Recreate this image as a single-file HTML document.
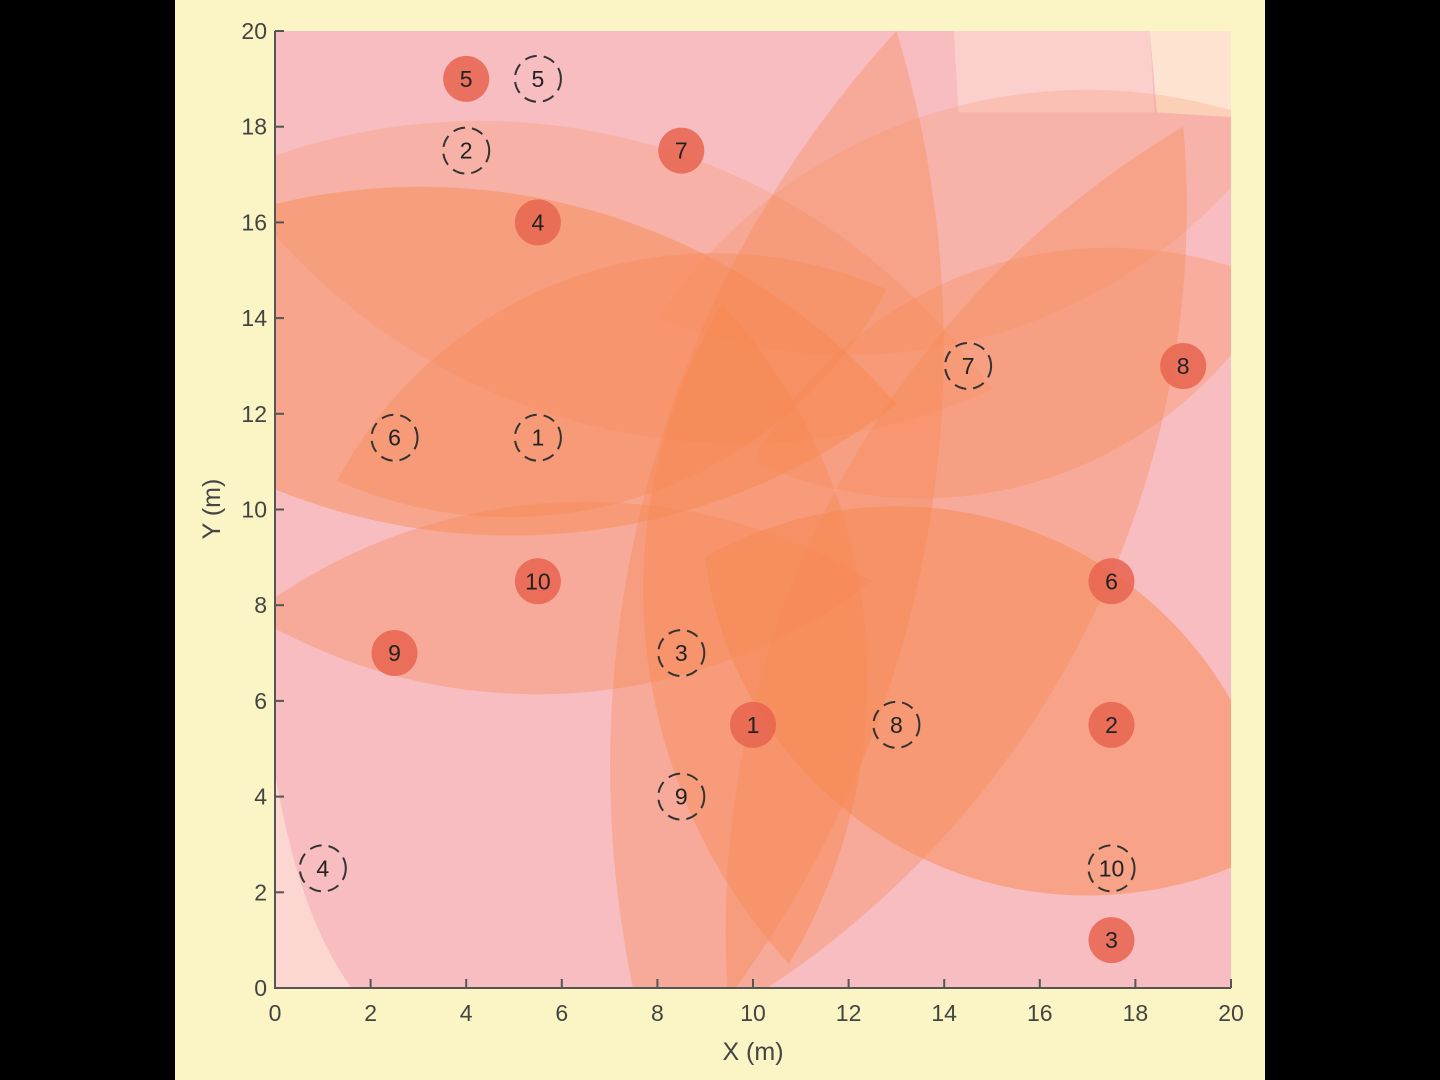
<!DOCTYPE html>
<html><head><meta charset="utf-8"><style>
html,body{margin:0;padding:0;background:#000;}
svg{display:block;font-family:"Liberation Sans",sans-serif;}
</style></head><body>
<svg id="fig" width="1440" height="1080" viewBox="0 0 1440 1080">
<rect x="0" y="0" width="1440" height="1080" fill="#000"/>
<rect x="175" y="0" width="1090" height="1080" fill="#fbf4c4"/>
<defs><clipPath id="axclip"><rect x="275" y="31" width="956" height="957"/></clipPath></defs>
<g id="plot" clip-path="url(#axclip)"></g>
<g id="axes"></g>
<g id="marks"></g>
</svg>
<script>
const xTicks=[0,2,4,6,8,10,12,14,16,18,20];
const yTicks=[0,2,4,6,8,10,12,14,16,18,20];
// lenses: start/end points and bulge in data units
const lensStart=[[-1,17],[-5,14],[1.3,10.6],[-0.5,7.8],[10.75,0.5],[8,-2],[9.5,-0.5],[9,9],[8,14],[10,11]];
const lensEnd=[[15,12.5],[13,12.2],[12.8,14.6],[12.5,8.5],[9.35,14.3],[13,20],[19,18],[21,3],[21,18],[21,14.7]];
const lensBulge=[3,3.6,2.4,2,2.3,3,3,3.6,2.4,2.3];
const lensAlpha=[0.22,0.45,0.35,0.35,0.4,0.35,0.35,0.5,0.2,0.3];
const solidLabels=["1","2","3","4","5","6","7","8","9","10"];
const solidX=[10,17.5,17.5,5.5,4,17.5,8.5,19,2.5,5.5];
const solidY=[5.5,5.5,1,16,19,8.5,17.5,13,7,8.5];
const dashLabels=["1","2","3","4","5","6","7","8","9","10"];
const dashX=[5.5,4,8.5,1,5.5,2.5,14.5,13,8.5,17.5];
const dashY=[11.5,17.5,7,2.5,19,11.5,13,5.5,4,2.5];

const NS="http://www.w3.org/2000/svg";
const X0=275,X1=1231,Y0=988,Y1=31;
const sx=v=>X0+(X1-X0)*v/20;
const sy=v=>Y0-(Y0-Y1)*v/20;
function mk(t,a,p){const e=document.createElementNS(NS,t);for(const k in a)e.setAttribute(k,a[k]);p.appendChild(e);return e;}
const plot=document.getElementById('plot'),axes=document.getElementById('axes'),marks=document.getElementById('marks');

let bg=mk('rect',{x:X0,y:Y1,width:X1-X0,height:Y0-Y1,fill:'#f8bdc0'},plot);


let c0=mk('path',{d:`M${sx(14.2)} ${sy(20)} L${sx(14.3)} ${sy(18.3)} L${sx(18.4)} ${sy(18.3)} L${sx(18.3)} ${sy(20)} Z`,fill:'#fbcfcc'},plot);


let c1=mk('path',{d:`M${sx(18.3)} ${sy(20)} L${sx(18.45)} ${sy(18.3)} L${sx(20)} ${sy(18.2)} L${sx(20)} ${sy(20)} Z`,fill:'#fde3d0'},plot);


let c2=mk('path',{d:`M${sx(0)} ${sy(4.5)} Q${sx(0.5)} ${sy(1.5)} ${sx(1.6)} ${sy(0)} L${sx(0)} ${sy(0)} Z`,fill:'#fcd6d0'},plot);



for(let i=0;i<lensStart.length;i++){
  const ax=sx(lensStart[i][0]),ay=sy(lensStart[i][1]),bx=sx(lensEnd[i][0]),by=sy(lensEnd[i][1]);
  const d=Math.hypot(bx-ax,by-ay),h=lensBulge[i]*47.8;
  const R=(d*d/4+h*h)/(2*h);
  const p=mk('path',{d:`M${ax} ${ay} A${R} ${R} 0 0 1 ${bx} ${by} A${R} ${R} 0 0 1 ${ax} ${ay} Z`,fill:'#f7874f','fill-opacity':lensAlpha[i]},plot);
  
  
}

const ax=mk('path',{d:`M${X0} ${Y1} L${X0} ${Y0} L${X1} ${Y0}`,fill:'none',stroke:'#555',"stroke-width":2},axes);


xTicks.forEach(v=>{
  const t=mk('line',{x1:sx(v),x2:sx(v),y1:Y0,y2:Y0-9,stroke:'#555','stroke-width':2},axes);
  
  
  const l=mk('text',{x:sx(v),y:Y0+33,'text-anchor':'middle','font-size':23,fill:'#444'},axes);
  l.textContent=v;
  
  
});
yTicks.forEach(v=>{
  const t=mk('line',{x1:X0,x2:X0+9,y1:sy(v),y2:sy(v),stroke:'#555','stroke-width':2},axes);
  
  
  const l=mk('text',{x:X0-8,y:sy(v)+8,'text-anchor':'end','font-size':23,fill:'#444'},axes);
  l.textContent=v;
  
  
});
const xt=mk('text',{x:753,y:1060,'text-anchor':'middle','font-size':25,fill:'#444'},axes);
xt.textContent='X (m)';


const yt=mk('text',{x:0,y:0,'text-anchor':'middle','font-size':25,fill:'#444',transform:'translate(220,509) rotate(-90)'},axes);
yt.textContent='Y (m)';



for(let i=0;i<solidX.length;i++){
  const g=mk('g',{},marks);
  
  
  mk('circle',{cx:sx(solidX[i]),cy:sy(solidY[i]),r:23,fill:'#e8644f','fill-opacity':0.85},g);
  const t=mk('text',{x:sx(solidX[i]),y:sy(solidY[i])+8,'text-anchor':'middle','font-size':23,fill:'#222'},g);
  t.textContent=solidLabels[i];
}
for(let i=0;i<dashX.length;i++){
  const g=mk('g',{},marks);
  
  
  mk('circle',{cx:sx(dashX[i]),cy:sy(dashY[i]),r:23,fill:'none',stroke:'#333','stroke-width':2,'stroke-dasharray':'12 7'},g);
  const t=mk('text',{x:sx(dashX[i]),y:sy(dashY[i])+8,'text-anchor':'middle','font-size':23,fill:'#222'},g);
  t.textContent=dashLabels[i];
}
</script>
</body></html>
